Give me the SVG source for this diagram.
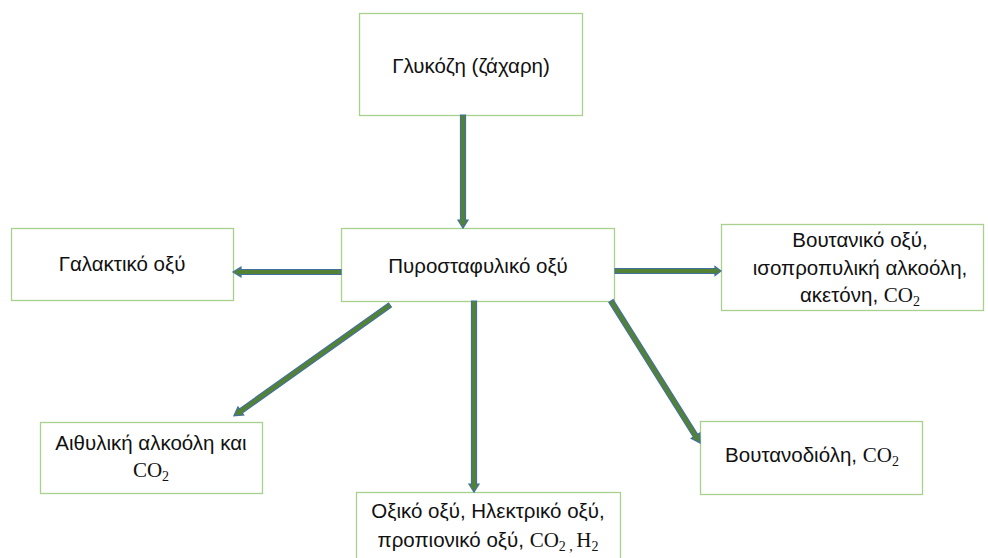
<svg xmlns="http://www.w3.org/2000/svg" width="988" height="558" viewBox="0 0 988 558">
<style>
.box{fill:#fff;stroke:#A9D18E;stroke-width:1.3}
.t{font-family:"Liberation Sans","Noto Sans",sans-serif;font-size:20.5px;fill:#111;text-anchor:middle}
.s{font-family:"Liberation Serif",serif;font-size:21px}
.sub{font-family:"Liberation Serif",serif;font-size:14px}
.arr{fill:#548235;stroke:#41719C;stroke-width:1.2;stroke-linejoin:miter}
</style>
<rect width="988" height="558" fill="#fff"/>
<g id="n-glucose"><rect class="box" x="359.5" y="13.5" width="223" height="102"/><text class="t" x="471" y="73">Γλυκόζη (ζάχαρη)</text></g>
<g id="n-pyruvic"><rect class="box" x="341.5" y="228.5" width="273" height="73"/><text class="t" x="478" y="273">Πυροσταφυλικό οξύ</text></g>
<g id="n-lactic"><rect class="box" x="11.5" y="228.5" width="222" height="72"/><text class="t" x="122" y="271">Γαλακτικό οξύ</text></g>
<g id="n-butyric"><rect class="box" x="721.5" y="224.5" width="262" height="86"/>
<text class="t" x="860" y="247">Βουτανικό οξύ,</text>
<text class="t" x="860" y="275">ισοπροπυλική αλκοόλη,</text>
<text class="t" x="860" y="302">ακετόνη, <tspan class="s">CO</tspan><tspan class="sub" dy="4">2</tspan></text></g>
<g id="n-ethanol"><rect class="box" x="40.5" y="422.5" width="222" height="71"/>
<text class="t" x="151" y="450">Αιθυλική αλκοόλη και</text>
<text class="t" x="151" y="477"><tspan class="s">CO</tspan><tspan class="sub" dy="4">2</tspan></text></g>
<g id="n-acetic"><rect class="box" x="356.5" y="492.5" width="264" height="80"/>
<text class="t" x="488" y="518">Οξικό οξύ, Ηλεκτρικό οξύ,</text>
<text class="t" x="488" y="547">προπιονικό οξύ, <tspan class="s">CO</tspan><tspan class="sub" dy="4">2 , </tspan><tspan class="s" dy="-4">H</tspan><tspan class="sub" dy="4">2</tspan></text></g>
<g id="n-butanediol"><rect class="box" x="700.5" y="421.5" width="222" height="73"/>
<text class="t" x="812" y="462">Βουτανοδιόλη, <tspan class="s">CO</tspan><tspan class="sub" dy="4">2</tspan></text></g>
<g id="connectors">
<path class="arr" transform="translate(463,115) rotate(90)" d="M0,-2.5 H105 V-5 L113,0 L105,5 V2.5 H0 Z"/>
<path class="arr" transform="translate(341,272) rotate(180)" d="M0,-2.5 H100 V-5 L108,0 L100,5 V2.5 H0 Z"/>
<path class="arr" transform="translate(615,271)" d="M0,-2.5 H100 V-4.5 L106,0 L100,4.5 V2.5 H0 Z"/>
<path class="arr" transform="translate(390,305) rotate(144.6)" d="M0,-2.5 H183 V-5 L191.5,0 L183,5 V2.5 H0 Z"/>
<path class="arr" transform="translate(474,301) rotate(90)" d="M0,-2.5 H183 V-5 L191,0 L183,5 V2.5 H0 Z"/>
<path class="arr" transform="translate(611,301) rotate(57.9)" d="M0,-2.5 H159 V-5 L167.6,0 L159,5 V2.5 H0 Z"/>
</g>
</svg>
